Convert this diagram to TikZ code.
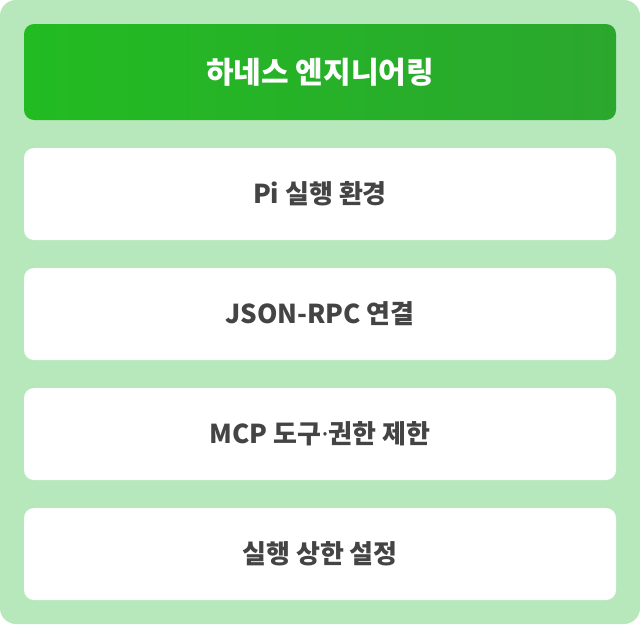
\documentclass[tikz,border=0pt]{standalone}
\usepackage{fontspec}
\setmainfont{Noto Sans CJK KR}
\newfontfamily\latinfont{Noto Sans}
\usepackage{tikz}
\usetikzlibrary{positioning}
\usepackage{xcolor}

\definecolor{panelgreen}{HTML}{B7E8BB}
\definecolor{headleft}{HTML}{22BB22}
\definecolor{headright}{HTML}{2BA72E}
\definecolor{textgrey}{HTML}{444444}

\tikzset{
    headbox/.style={rounded corners=10pt, left color=headleft, right color=headright,
        minimum width=592pt, minimum height=96pt, text=white,
        font=\fontsize{30}{36}\selectfont\bfseries},
    layerbox/.style={rounded corners=10pt, fill=white,
        minimum width=592pt, minimum height=92pt, text=textgrey,
        font=\fontsize{26}{31}\selectfont\bfseries}
}

\begin{document}
\begin{tikzpicture}[x=1pt, y=-1pt]

        % Background panel
        \fill[panelgreen, rounded corners=16pt] (0,0) rectangle (640,624);
        \useasboundingbox (0,0) rectangle (640,624);

        % Header
        \node[headbox] (harness) at (320,72) {하네스 엔지니어링};

        % Layers
        \node[layerbox] (runtime) at (320,194) {Pi 실행 환경};
        \node[layerbox] (rpc) at (320,314) {JSON-RPC 연결};
        \node[layerbox] (mcp) at (320,434) {MCP 도구{\latinfont\bfseries ·}권한 제한};
        \node[layerbox] (limits) at (320,554) {실행 상한 설정};

    \end{tikzpicture}
\end{document}
